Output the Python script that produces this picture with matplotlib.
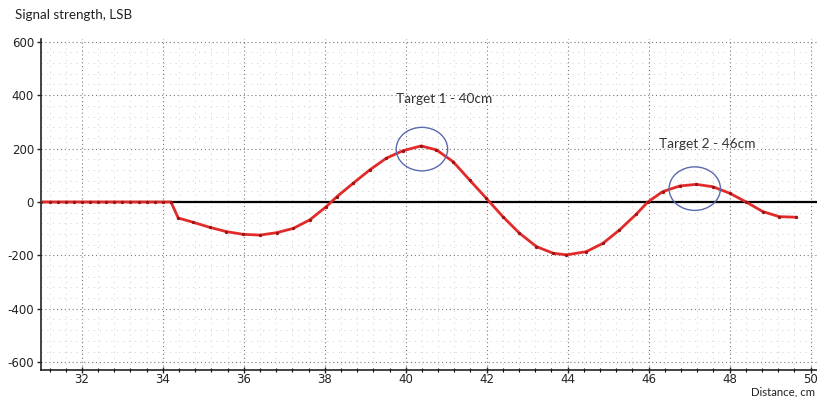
import matplotlib.pyplot as plt
from matplotlib.patches import Ellipse
from matplotlib.ticker import MultipleLocator

plt.rcParams["axes.unicode_minus"] = False

# distance (cm) and signal strength (LSB)
distance = [31.0, 31.2, 31.4, 31.6, 31.8, 32.0, 32.2, 32.4, 32.6, 32.8, 33.0,
            33.2, 33.4, 33.6, 33.8, 34.0, 34.2,
            34.38, 34.75, 35.16, 35.57, 35.98, 36.4, 36.81, 37.22, 37.63, 38.04,
            38.3, 38.7, 39.11, 39.52, 39.93, 40.38, 40.76, 41.17, 41.58, 41.99,
            42.4, 42.81, 43.23, 43.64, 43.97, 44.46, 44.87, 45.28, 45.7, 45.98,
            46.35, 46.77, 47.18, 47.59, 48.0, 48.41, 48.82, 49.23, 49.64]
signal = [0, 0, 0, 0, 0, 0, 0, 0, 0, 0, 0,
          0, 0, 0, 0, 0, 0,
          -60, -76, -95, -111, -121, -124, -115, -99, -67, -17,
          20, 70, 120, 164, 192, 210, 195, 151, 82, 14,
          -55, -117, -167, -192, -198, -186, -155, -105, -45, 0,
          39, 60, 66, 57, 33, 0, -36, -55, -57]

targets = ["Target 1 - 40cm", "Target 2 - 46cm"]
target_x = [40.4, 47.14]
target_y = [198, 50]
label_x = [40.96, 47.46]
label_y = [386, 217]

fig = plt.figure(figsize=(8.17, 3.97), dpi=100)
ax = fig.add_axes([0.0502, 0.0675, 0.9498, 0.834])

ax.set_xlim(30.99, 50.16)
ax.set_ylim(-630, 610)

ax.xaxis.set_major_locator(MultipleLocator(2))
ax.xaxis.set_minor_locator(MultipleLocator(0.4))
ax.yaxis.set_major_locator(MultipleLocator(200))
ax.yaxis.set_minor_locator(MultipleLocator(40))

ax.grid(which="major", color="#7a7a7a", linestyle=(0, (1, 2.5)), linewidth=0.8)
ax.grid(which="minor", color="#cfcfcf", linestyle=(0, (1, 5)), linewidth=0.7)
ax.set_axisbelow(True)

for s in ["top", "right"]:
    ax.spines[s].set_visible(False)
for s in ["left", "bottom"]:
    ax.spines[s].set_color("#222222")
    ax.spines[s].set_linewidth(1.2)

ax.tick_params(axis="x", which="major", direction="inout", length=4, width=1,
               labelsize=8.5, colors="#222222", pad=0)
ax.tick_params(axis="x", which="minor", direction="inout", length=3, width=0.8)
ax.tick_params(axis="y", which="major", direction="out", length=3, width=1,
               labelsize=8.5, colors="#222222", pad=2)
ax.tick_params(axis="y", which="minor", length=0)

ax.axhline(0, color="black", linewidth=1.6, zorder=2)

ax.plot(distance, signal, color="#e32a2a", linewidth=2.0, zorder=3,
        marker="o", markersize=1.4, markerfacecolor="#9a1515",
        markeredgecolor="#9a1515")

for i in range(len(targets)):
    ax.add_patch(Ellipse((target_x[i], target_y[i]), 1.27, 163, fill=False,
                         edgecolor="#5b6aae", linewidth=1.0, zorder=4))
    ax.text(label_x[i], label_y[i], targets[i], ha="center", va="center",
            fontsize=9.8, family=["Lato", "DejaVu Sans"], color="#333333")

fig.text(0.018, 0.962, "Signal strength, LSB", fontsize=9.6,
         family=["Lato", "DejaVu Sans"], color="#222222", va="center")
fig.text(0.997, 0.0, "Distance, cm", fontsize=8.2, ha="right",
         family=["Lato", "DejaVu Sans"], color="#222222", va="bottom")

fig.savefig("out.png", dpi=100)
